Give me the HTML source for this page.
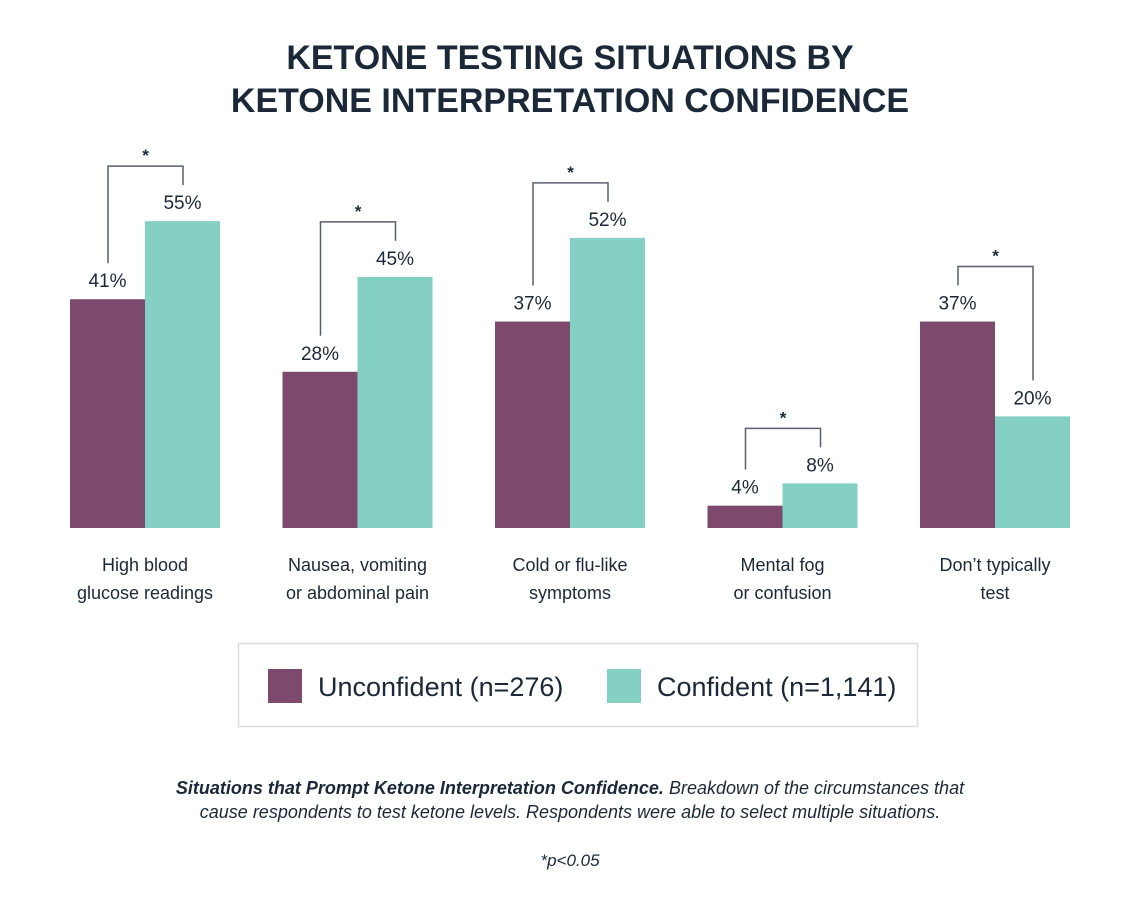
<!DOCTYPE html>
<html><head><meta charset="utf-8"><style>
body{margin:0;background:#fff;width:1140px;height:910px;overflow:hidden;font-family:"Liberation Sans",sans-serif;}
</style></head><body>
<svg width="1140" height="910" id="c" font-family="Liberation Sans, sans-serif">
<text x="570" y="69" text-anchor="middle" font-size="34" font-weight="bold" fill="#1b2838">KETONE TESTING SITUATIONS BY</text>
<text x="570" y="112" text-anchor="middle" font-size="34" font-weight="bold" fill="#1b2838">KETONE INTERPRETATION CONFIDENCE</text>
<g id="bars"></g>
<g>
<rect x="238.5" y="643.5" width="679" height="83" fill="#fff" stroke="#ddd" stroke-width="1.5"/>
<rect x="268" y="669" width="34" height="34" fill="#7d4a6e"/>
<text x="318" y="696" font-size="27" fill="#1b2838">Unconfident (n=276)</text>
<rect x="607" y="669" width="34" height="34" fill="#84d0c5"/>
<text x="657" y="696" font-size="27" fill="#1b2838">Confident (n=1,141)</text>
</g>
<text x="570" y="794" text-anchor="middle" font-size="18" font-style="italic" fill="#1b2838"><tspan font-weight="bold">Situations that Prompt Ketone Interpretation Confidence.</tspan> Breakdown of the circumstances that</text>
<text x="570" y="818" text-anchor="middle" font-size="18" font-style="italic" fill="#1b2838">cause respondents to test ketone levels. Respondents were able to select multiple situations.</text>
<text x="570" y="866" text-anchor="middle" font-size="17" font-style="italic" fill="#1b2838">*p&lt;0.05</text>
</svg>
<script>
const categories=[["High blood","glucose readings"],["Nausea, vomiting","or abdominal pain"],["Cold or flu-like","symptoms"],["Mental fog","or confusion"],["Don’t typically","test"]];
const unconfident=[41,28,37,4,37];
const confident=[55,45,52,8,20];
const significant=[true,true,true,true,true];
const NS="http://www.w3.org/2000/svg";
const g=document.getElementById('bars');
const base=528, pxPer=5.58, bw=75;
function y(v){return base-v*pxPer;}
function x0(i){return 70+i*212.5;}
function mk(t,a,p){const e=document.createElementNS(NS,t);for(const k in a)e.setAttribute(k,a[k]);(p||g).appendChild(e);return e;}
categories.forEach((c,i)=>{
  const xl=x0(i), xr=xl+bw;
  const r1=mk('rect',{x:xl,y:y(unconfident[i]),width:bw,height:base-y(unconfident[i]),fill:'#7d4a6e'});
  
  
  const r2=mk('rect',{x:xr,y:y(confident[i]),width:bw,height:base-y(confident[i]),fill:'#84d0c5'});
  
  
  const t1=mk('text',{x:xl+bw/2,y:y(unconfident[i])-12,'text-anchor':'middle','font-size':19,fill:'#1b2838'});
  t1.textContent=unconfident[i]+'%';
  
  
  const t2=mk('text',{x:xr+bw/2,y:y(confident[i])-12,'text-anchor':'middle','font-size':19,fill:'#1b2838'});
  t2.textContent=confident[i]+'%';
  
  
  c.forEach((ln,j)=>{
    const ct=mk('text',{x:xl+bw,y:571+j*28,'text-anchor':'middle','font-size':18,fill:'#1b2838'});
    ct.textContent=ln;
    
    
  });
  if(significant[i]){
    const a=y(unconfident[i]), b=y(confident[i]);
    const hy=Math.min(a,b)-55;
    const cl=xl+bw/2+0.5, cr=xr+bw/2+0.5;
    const br=mk('path',{d:`M${cl},${a-36}V${hy}H${cr}V${b-36}`,fill:'none',stroke:'#5a5f6e','stroke-width':1.5});
    
    
    const st=mk('text',{x:(cl+cr)/2,y:hy-5,'text-anchor':'middle','font-size':17,'font-weight':'bold',fill:'#1b2838'});
    st.textContent='*';
    
    
  }
});
</script>
</body></html>
